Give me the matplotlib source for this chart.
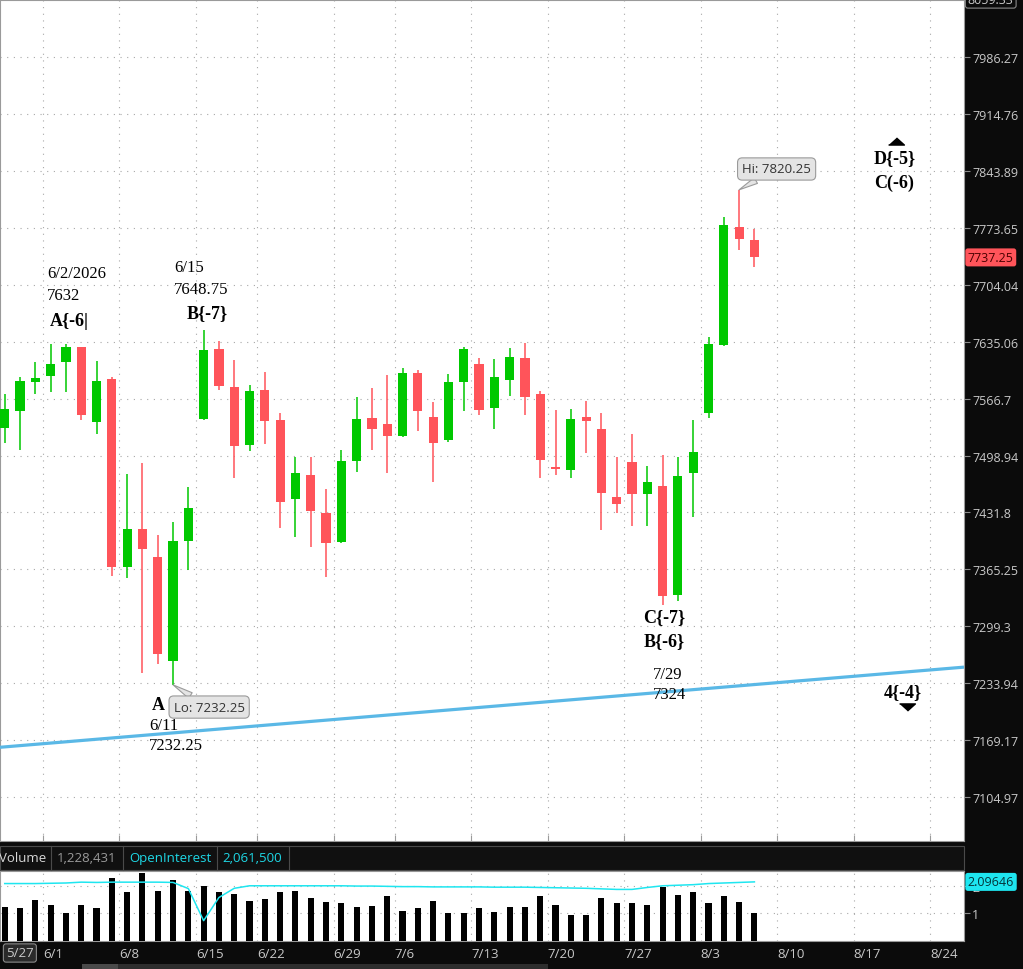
import matplotlib
matplotlib.use('Agg')
import matplotlib.pyplot as plt
from matplotlib.patches import Rectangle
from matplotlib.ticker import NullLocator, NullFormatter
import numpy as np
import pandas as pd

# trading days shown on the chart (6/19 and 7/3 closed)
days = pd.bdate_range('2026-05-27', '2026-08-25')
days = days[~days.isin(pd.to_datetime(['2026-06-19', '2026-07-03']))]

# daily candles 5/27 .. 8/6
opens = [7532, 7552, 7586, 7594, 7610, 7628, 7539, 7590, 7368, 7412,
         7380, 7259, 7398, 7542, 7626, 7581, 7511, 7577, 7541, 7448,
         7476, 7431, 7397, 7493, 7544, 7536, 7522, 7597, 7545, 7517,
         7586, 7608, 7556, 7589, 7615, 7572, 7485, 7482, 7545, 7531,
         7450, 7491, 7453, 7463, 7336, 7478, 7550, 7631, 7774, 7758]
highs = [7572, 7592, 7611, 7632, 7632, 7629, 7612, 7592, 7477, 7490,
         7405, 7421, 7462, 7648.75, 7636, 7613, 7583, 7599, 7550, 7497,
         7497, 7459, 7505, 7568, 7579, 7595, 7603, 7601, 7563, 7596,
         7629, 7615, 7614, 7627, 7633, 7576, 7553, 7554, 7564, 7550,
         7497, 7525, 7486, 7500, 7497, 7541, 7640, 7787, 7820.25, 7772]
lows = [7514, 7505, 7572, 7575, 7575, 7541, 7524, 7358, 7355, 7246,
        7256, 7232.25, 7365, 7541, 7577, 7472, 7504, 7512, 7414, 7403,
        7391, 7357, 7396, 7480, 7505, 7478, 7521, 7528, 7468, 7515,
        7552, 7547, 7531, 7570, 7547, 7472, 7476, 7472, 7502, 7411,
        7431, 7416, 7416, 7324, 7329, 7426, 7543, 7630, 7746, 7725]
closes = [7554, 7588, 7591, 7608, 7628, 7547, 7588, 7368, 7412, 7389,
          7267, 7398, 7437, 7625, 7582, 7510, 7576, 7540, 7444, 7478,
          7433, 7396, 7493, 7542, 7531, 7522, 7597, 7552, 7514, 7586,
          7626, 7553, 7592, 7616, 7569, 7494, 7483, 7542, 7540, 7455,
          7442, 7453, 7468, 7334, 7475, 7503, 7632, 7777, 7760, 7737.25]

# volume and open interest, millions
volume = [1.23, 1.18, 1.48, 1.31, 1.01, 1.31, 1.18, 2.26, 1.75, 2.44,
          1.79, 2.19, 1.79, 2.00, 1.75, 1.69, 1.44, 1.52, 1.75, 1.79,
          1.57, 1.40, 1.39, 1.23, 1.26, 1.64, 1.10, 1.18, 1.44, 1.01,
          1.01, 1.18, 1.06, 1.23, 1.23, 1.61, 1.31, 0.96, 0.96, 1.57,
          1.36, 1.39, 1.31, 1.93, 1.65, 1.75, 1.36, 1.61, 1.40, 1.01]
open_int = [2.07, 2.07, 2.07, 2.08, 2.09, 2.12, 2.11, 2.12, 2.12, 2.12,
            2.12, 2.11, 1.89, 0.74, 1.57, 1.90, 1.99, 1.99, 1.99, 1.99,
            1.99, 1.99, 1.99, 1.98, 1.98, 1.97, 1.96, 1.96, 1.95, 1.95,
            1.95, 1.95, 1.94, 1.94, 1.94, 1.93, 1.92, 1.91, 1.90, 1.88,
            1.86, 1.86, 1.93, 1.99, 2.01, 2.03, 2.07, 2.09, 2.11, 2.13]

price_ticks = [7104.97, 7169.17, 7233.94, 7299.3, 7365.25, 7431.8, 7498.94,
               7566.7, 7635.06, 7704.04, 7773.65, 7843.89, 7914.76, 7986.27]
top_tick = 8059.33
vol_ticks = [1, 2]

# trendline through the lows
trend_x = [-0.31, 62.7]
trend_y = [7161.3, 7252.5]

GREEN = '#00c800'
RED = '#ff545a'
GRID = '#a8a8a8'
AXC = '#c8c8c8'
BG = '#0b0b0b'
SERIF = 'Liberation Serif'

plt.rcParams['font.family'] = ['Open Sans', 'DejaVu Sans']

W, H = 1023, 970
fig = plt.figure(figsize=(W / 100, H / 100), dpi=100, facecolor=BG)


def rect(l, t, r, b):
    return [l / W, 1 - b / H, (r - l) / W, (b - t) / H]


def fx(px):
    return px / W


def fy(py):
    return 1 - py / H


ax = fig.add_axes(rect(0, 1, 964, 842))
axv = fig.add_axes(rect(0, 872, 964, 942.3))

n = len(opens)
x = np.arange(n)
o, h, l, c = map(np.array, (opens, highs, lows, closes))
col = np.where(c >= o, GREEN, RED)

mondays = np.where(days.dayofweek == 0)[0]
week_pos = mondays - 0.5
week_lbl = [f"{days[i].month}/{days[i].day}" for i in mondays]
xlim = (-0.31, 62.7)

# ---- price panel ----
ax.set_yscale('log')
ax.vlines(x, l, h, colors=col, lw=1.1, zorder=3)
ax.bar(x, np.abs(c - o), bottom=np.minimum(o, c), width=0.6, color=col, lw=0, zorder=4)
ax.plot(trend_x, trend_y, color='#5ab8e6', lw=2.3, zorder=5, solid_capstyle='butt')

ax.set_xlim(*xlim)
ax.set_ylim(7056.1, 8058.2)
ax.set_xticks(week_pos)
ax.set_yticks(price_ticks, labels=[str(v) for v in price_ticks])
ax.yaxis.set_minor_locator(NullLocator())
ax.yaxis.set_minor_formatter(NullFormatter())
ax.yaxis.tick_right()
ax.tick_params(axis='y', direction='out', length=4, color='#8a8a8a',
               labelcolor=AXC, labelsize=9, pad=2)
ax.tick_params(axis='x', direction='in', length=4, color='#9a9a9a', labelbottom=False)
ax.grid(True, ls=(0, (1, 5)), color=GRID, lw=0.8, zorder=0)
for sp in ax.spines.values():
    sp.set_color('#9a9a9a')

ytr = ax.get_yaxis_transform()
ax.text(1.004, top_tick, str(top_tick), transform=ytr, ha='left', va='center',
        color=AXC, fontsize=9, clip_on=False,
        bbox=dict(boxstyle='round,pad=0.2', fc=BG, ec='#8a8a8a', lw=0.8))
ax.text(1.004, closes[-1], f"{closes[-1]:g}", transform=ytr, ha='left', va='center',
        color='#4a0000', fontsize=9, clip_on=False,
        bbox=dict(boxstyle='round,pad=0.2', fc=RED, ec='none'))

# callouts for the extremes
bubble = dict(boxstyle='round,pad=0.35', fc='#e4e4e4', ec='#9a9a9a', lw=0.8)
wedge = dict(arrowstyle='wedge,tail_width=0.5', fc='#e4e4e4', ec='#9a9a9a', lw=0.8,
             shrinkA=0, shrinkB=0)
ih = int(np.argmax(h))
il = int(np.argmin(l))
ax.annotate(f"Hi: {h[ih]:g}", xy=(ih, h[ih]), xytext=(27, 15), textcoords='offset points',
            ha='center', va='center', fontsize=9.5, color='#333333', bbox=bubble,
            arrowprops=wedge, zorder=6)
ax.annotate(f"Lo: {l[il]:g}", xy=(il, l[il]), xytext=(26, -16), textcoords='offset points',
            ha='center', va='center', fontsize=9.5, color='#333333', bbox=bubble,
            arrowprops=wedge, zorder=6)

# wave labels
d = lambda i: f"{days[i].month}/{days[i].day}"
txt = dict(family=SERIF, fontsize=12, color='black', ha='left', va='center', zorder=7)
bold = dict(txt, fontsize=13, fontweight='bold')
ax.text(2.76, 7717.8, f"{d(4)}/{days[4].year}", **txt)
ax.text(2.76, 7691.1, f"{h[4]:g}", **txt)
ax.text(2.96, 7660.8, "A{-6|", **bold)
ax.text(11.07, 7725.1, d(13), **txt)
ax.text(11.07, 7698.4, f"{h[13]:g}", **txt)
ax.text(11.92, 7670.5, "B{-7}", **bold)
ax.text(9.61, 7209.8, "A", **bold)
ax.text(9.43, 7186.5, d(il), **txt)
ax.text(9.43, 7163.9, f"{l[il]:g}", **txt)
ax.text(41.74, 7311.2, "C{-7}", **bold)
ax.text(41.74, 7283.5, "B{-6}", **bold)
ax.text(42.35, 7244.6, d(43), **txt)
ax.text(42.35, 7221.8, f"{l[43]:g}", **txt)
ax.text(56.82, 7860.0, "D{-5}", **bold)
ax.text(56.82, 7830.0, "C(-6)", **bold)
ax.text(57.47, 7224.6, "4{-4}", **bold)
ax.scatter([58.24], [7881.1], marker=[(-1, -0.45), (1, -0.45), (0, 0.45)], s=130,
           color='black', zorder=7)
ax.scatter([58.99], [7206.6], marker=[(-1, 0.45), (1, 0.45), (0, -0.45)], s=130,
           color='black', zorder=7)

# ---- volume panel ----
axv.bar(x, volume, width=0.4, color='black', zorder=3)
axv.plot(x, open_int, color='#1ee6f0', lw=1.1, zorder=4)
axv.set_xlim(*xlim)
axv.set_ylim(0, 2.52)
axv.set_xticks(week_pos, labels=week_lbl)
for t in axv.get_xticklabels():
    t.set_ha('left')
axv.set_yticks(vol_ticks, labels=[str(v) for v in vol_ticks])
axv.yaxis.tick_right()
axv.tick_params(axis='x', length=0, pad=4, labelcolor=AXC, labelsize=9.5)
axv.tick_params(axis='y', direction='out', length=4, color='#8a8a8a',
                labelcolor=AXC, labelsize=9, pad=2)
axv.grid(True, ls=(0, (1, 5)), color=GRID, lw=0.8, zorder=0)
for sp in axv.spines.values():
    sp.set_color('#9a9a9a')
axv.text(1.004, open_int[-1], '2.09646', transform=axv.get_yaxis_transform(),
         ha='left', va='center', color='#04343a', fontsize=9, clip_on=False,
         bbox=dict(boxstyle='round,pad=0.2', fc='#1ee6f0', ec='none'))

# header row of the lower study
fig.add_artist(Rectangle((fx(0), fy(871)), fx(964), fy(847) - fy(871),
                         transform=fig.transFigure, fc='#101010', ec='#4a4a4a', lw=0.8))
for px in (51, 123, 217, 289):
    fig.add_artist(plt.Line2D([fx(px), fx(px)], [fy(871), fy(847)],
                              transform=fig.transFigure, color='#4a4a4a', lw=0.8))
hdr = dict(va='center', ha='left', fontsize=9.5)
fig.text(fx(-1), fy(859), "Volume", color='#d8d8d8', **hdr)
fig.text(fx(57), fy(859), "1,228,431", color='#9a9a9a', **hdr)
fig.text(fx(129), fy(859), "OpenInterest", color='#1ed8e6', **hdr)
fig.text(fx(222), fy(859), "2,061,500", color='#1ed8e6', **hdr)

# first-bar date badge and scroll bar
fig.text(fx(6), fy(954), d(0), color=AXC, fontsize=9.5, ha='left', va='center',
         bbox=dict(boxstyle='round,pad=0.2', fc='#2a2a2a', ec='#8a8a8a', lw=0.8))
fig.add_artist(Rectangle((fx(118), fy(970)), fx(548 - 118), fy(965) - fy(970),
                         transform=fig.transFigure, fc='#2e2e2e', ec='none'))
fig.add_artist(Rectangle((fx(82), fy(970)), fx(118 - 82), fy(965) - fy(970),
                         transform=fig.transFigure, fc='#4a4a4a', ec='none'))

fig.savefig('out.png', dpi=100, facecolor=BG)
